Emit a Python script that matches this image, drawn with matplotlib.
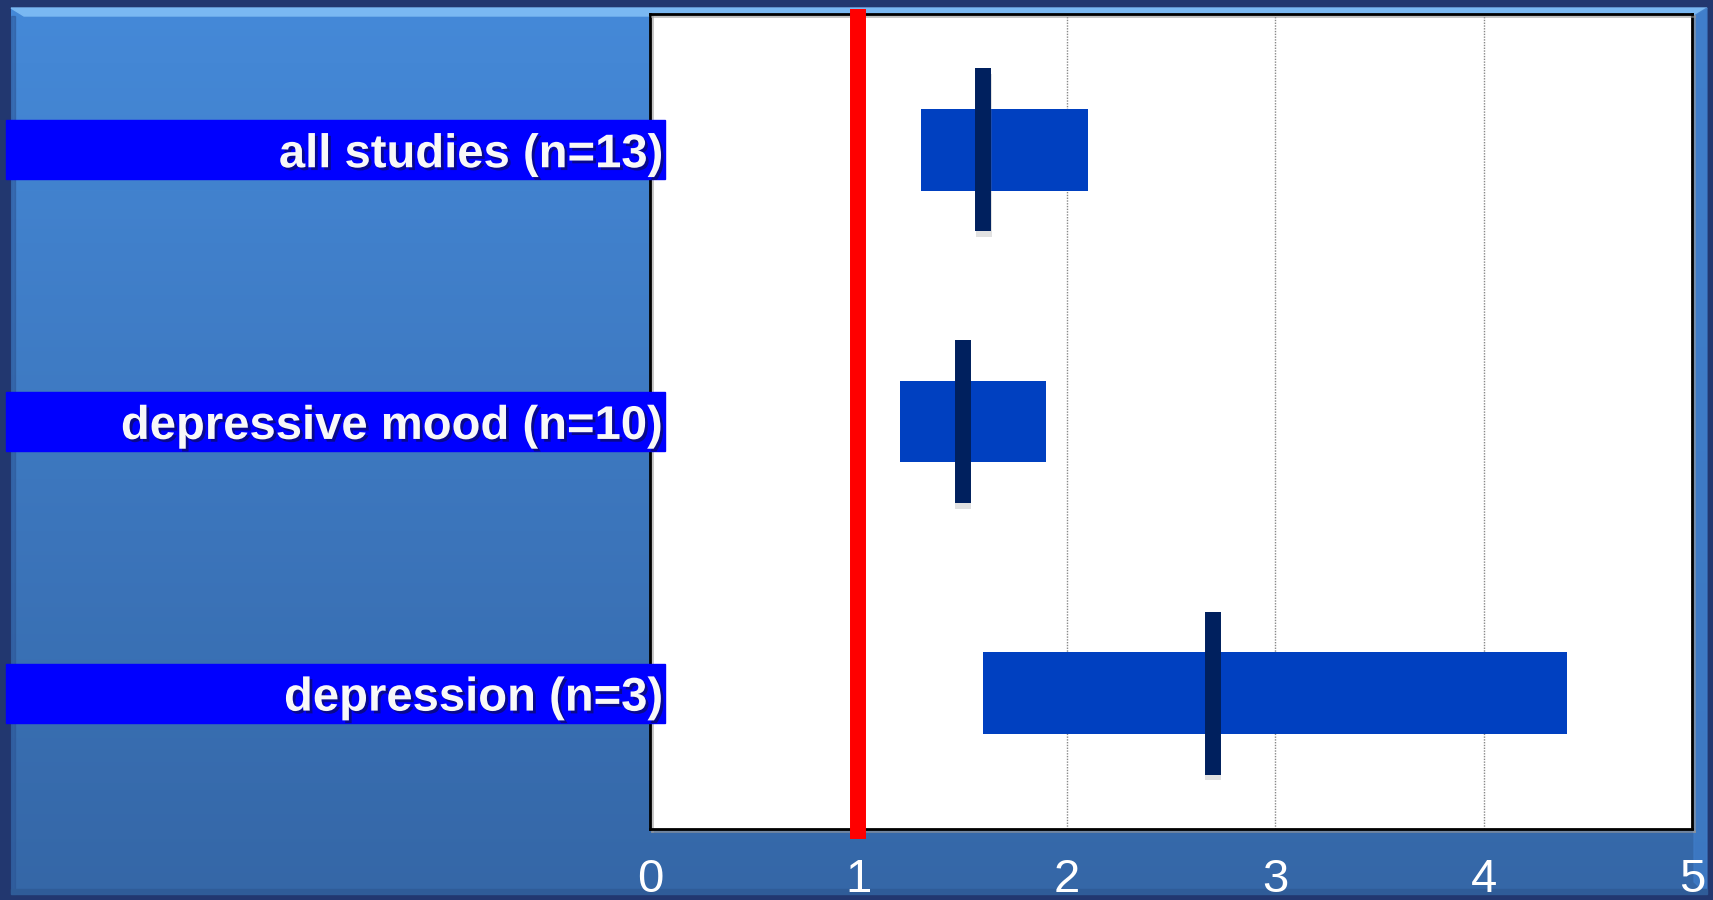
import matplotlib
matplotlib.use("Agg")
import matplotlib.pyplot as plt
import matplotlib.patheffects as pe
from matplotlib.patches import Rectangle, Polygon
from matplotlib.transforms import blended_transform_factory
import numpy as np

plt.rcParams["font.family"] = ["Liberation Sans", "DejaVu Sans"]

# pooled odds ratios with confidence intervals per subgroup
categories = ["all studies (n=13)", "depressive mood (n=10)", "depression (n=3)"]
estimate = [1.6, 1.5, 2.7]
ci_low = [1.3, 1.2, 1.6]
ci_high = [2.1, 1.9, 4.4]
xticks = [0, 1, 2, 3, 4, 5]
reference_value = 1

W, H = 1713, 900
fig = plt.figure(figsize=(W / 100, H / 100), dpi=100)

# slide background: dark frame, bevelled blue panel with vertical gradient
bg = fig.add_axes([0, 0, 1, 1], zorder=-10)
bg.set_xlim(0, W)
bg.set_ylim(H, 0)
bg.axis("off")
bg.add_patch(Rectangle((0, 0), W, H, color="#22376f"))
top_band = np.linspace(0, 1, 256)
top_col = np.array([0.5 - 0.5 * np.cos(2 * np.pi * top_band)]).T
frame_strip = np.zeros((1, 256, 3))
c_dark = np.array([0x22, 0x38, 0x72]) / 255
c_light = np.array([0x4c, 0x68, 0xac]) / 255
frame_strip[0] = c_dark + (c_light - c_dark) * top_col
bg.imshow(frame_strip, extent=(0, W, 8, 0), aspect="auto", zorder=0)

grad = np.zeros((256, 1, 3))
t = np.linspace(0, 1, 256)[:, None]
c_top = np.array([0x45, 0x89, 0xd8]) / 255
c_bot = np.array([0x35, 0x67, 0xa7]) / 255
grad[:, 0, :] = c_top + (c_bot - c_top) * t
bg.imshow(grad, extent=(11, 1707, 894, 8), aspect="auto", zorder=1)
# bevel edges
bg.add_patch(Polygon([(11, 8), (1707, 8), (1694, 16), (24, 16)], color="#7ab8f2", zorder=2))
bg.add_patch(Polygon([(1707, 8), (1707, 894), (1694, 882), (1694, 16)], color="#3f7cc8",
                     alpha=0.8, zorder=2))
bg.add_patch(Rectangle((11, 16), 4, 878, color="#2c5494", alpha=0.5, zorder=2))
bg.add_patch(Rectangle((11, 889), 1696, 5, color="#2f5c98", zorder=2))

ax = fig.add_axes([650 / W, 1 - 829 / H, 1042 / W, 815 / H])
ax.set_facecolor("white")
ax.set_xlim(0, 5)
ax.set_ylim(2.5, -0.5)
y = np.arange(len(categories))

ax.grid(axis="x", color="#888888", linestyle=(0, (1, 1)), linewidth=1)
ax.set_axisbelow(True)

ax.barh(y, np.array(ci_high) - np.array(ci_low), left=ci_low, height=0.30,
        color="#0040c0", zorder=3)
marks = ax.vlines(estimate, y - 0.30, y + 0.30, color="#00205e", linewidth=11.5,
                  zorder=4)
marks.set_capstyle("butt")
marks.set_path_effects([pe.SimpleLineShadow(offset=(0.5, -4), shadow_color="#777777",
                                            alpha=0.22), pe.Normal()])

ax.plot([reference_value, reference_value], [-0.0123, 1.006], color="red",
        linewidth=11.5, solid_capstyle="butt", clip_on=False, zorder=5,
        transform=ax.get_xaxis_transform())

for s in ax.spines.values():
    s.set_color("black")
    s.set_linewidth(2)
    s.set_path_effects([pe.SimpleLineShadow(offset=(1.5, -1.5), shadow_color="#999999",
                                            alpha=0.6), pe.Normal()])

ax.set_yticks([])
ax.set_xticks(xticks)
ax.set_xticklabels([str(v) for v in xticks], fontsize=34, color="white")
ax.tick_params(axis="x", length=0, pad=21)

# category labels on blue strips reaching across the axes edge
lab_tr = blended_transform_factory(fig.transFigure, ax.transData)
for i, name in enumerate(categories):
    ax.add_patch(Rectangle((5.5 / W, i - 0.1085), 659.5 / W, 0.217, color="#0000ff",
                           transform=lab_tr, clip_on=False, zorder=6))
    ax.text(664 / W, i + 0.02, name, transform=lab_tr, ha="right", va="center",
            fontsize=34, fontweight="bold", color="#f8f8f8", clip_on=False, zorder=7,
            path_effects=[pe.SimplePatchShadow(offset=(2, -2), shadow_rgbFace="#101040",
                                               alpha=0.6), pe.Normal()])

fig.savefig("out.png", dpi=100)
